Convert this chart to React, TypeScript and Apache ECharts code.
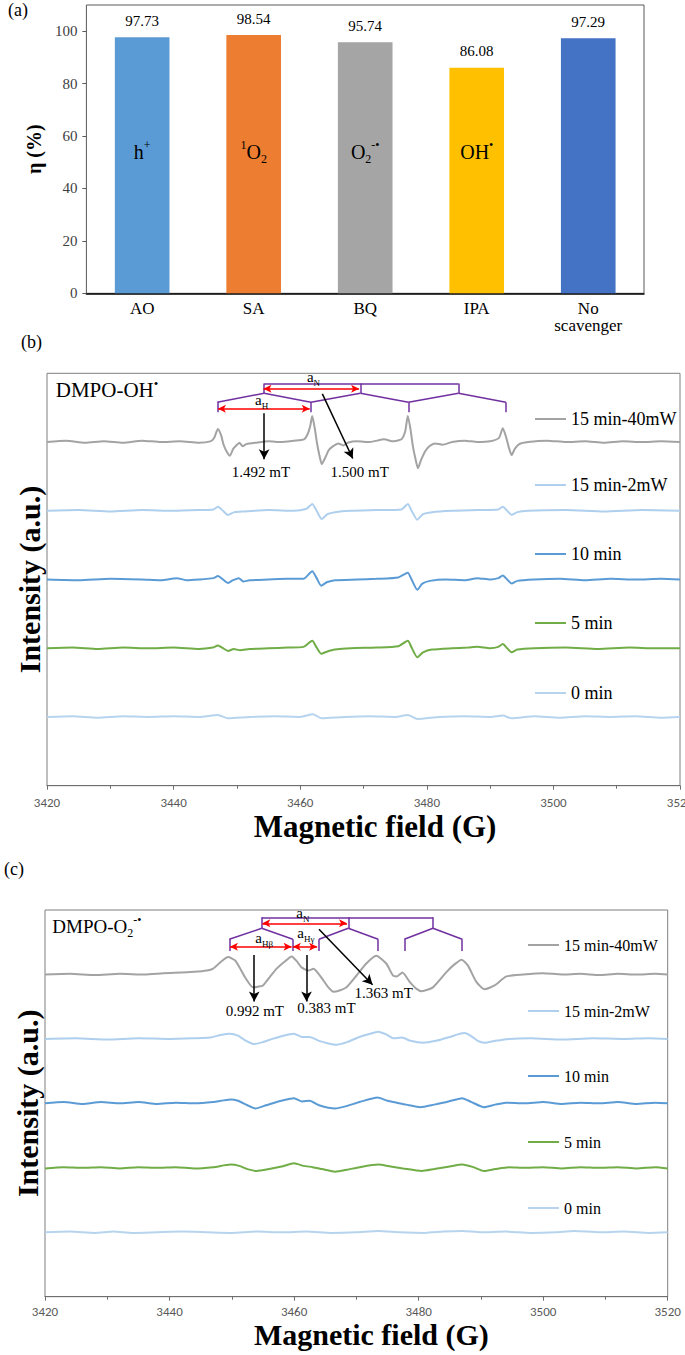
import React, { useEffect, useRef } from "react";
import * as echarts from "echarts";

// ---------------- Panel (a): scavenger experiment ----------------
const scavengers = ["AO", "SA", "BQ", "IPA", "No\nscavenger"];
const removalEfficiency = [97.73, 98.54, 95.74, 86.08, 97.29];
const barColors = ["#5B9BD5", "#ED7D31", "#A5A5A5", "#FFC000", "#4472C4"];
const quenchedSpecies = ["{m|h}{sp|+}", "{sp|1}{m|O}{sb|2}", "{m|O}{sb|2}{sp|-•}", "{m|OH}{sp|•}"];
const speciesLevel = 54;

// ---------------- Panels (b), (c): EPR spectra ----------------
const traceNames = ["15 min-40mW", "15 min-2mW", "10 min", "5 min", "0 min"];
const traceColors = ["#A3A3A3", "#AFCFEE", "#5B9BD5", "#70AD47", "#B7D4EF"];
const traceOffsets = [500, 400, 300, 200, 100];

// [field (G), intensity relative to the trace's own baseline]
const ohB40 = [[3420,0],[3423,2],[3426,-1],[3429,1],[3432,-1],[3435,2],[3438,0],[3441,1],[3444,-1],[3445.8,1],[3446.4,6],[3447.0,19],[3447.5,10],[3447.9,-4],[3448.4,-14],[3448.9,-20],[3449.4,-10],[3449.9,-5],[3450.4,-1],[3450.9,-6],[3451.5,-3],[3453,-1],[3455,1],[3457,0],[3459,2],[3460.6,4],[3461.2,12],[3461.6,24],[3461.9,38],[3462.3,20],[3462.7,-4],[3463.1,-22],[3463.4,-32],[3463.9,-24],[3464.5,-12],[3465.2,-6],[3466,-2],[3466.8,-5],[3467.5,-1],[3469,1],[3471,0],[3473.3,4],[3474.5,1],[3476,4],[3476.6,16],[3477.0,38],[3477.4,20],[3477.8,-6],[3478.2,-24],[3478.6,-38],[3479.1,-26],[3479.7,-14],[3480.4,-6],[3481.3,-2],[3482.5,-4],[3484,0],[3486,2],[3488,0],[3490,1],[3491.4,6],[3492.0,20],[3492.5,8],[3492.9,-6],[3493.4,-19],[3493.9,-10],[3494.6,-3],[3496,0],[3499,2],[3502,0],[3505,1],[3508,-1],[3511,1],[3514,0],[3517,1],[3520,0]];
const ohB2 = [[3420,0],[3425,1],[3430,-1],[3435,1],[3440,0],[3444,1],[3446.3,2],[3447.0,6],[3447.8,0],[3448.6,-6],[3449.6,-2],[3451,-1],[3455,1],[3459,0],[3461,3],[3461.9,10],[3462.6,0],[3463.4,-12],[3464.3,-5],[3465.5,-2],[3468,0],[3472,1],[3476,2],[3477.0,10],[3477.6,0],[3478.5,-13],[3479.4,-5],[3480.8,-2],[3484,0],[3488,1],[3491.3,2],[3492.0,6],[3492.7,0],[3493.4,-6],[3494.3,-2],[3496,0],[3502,1],[3508,-1],[3514,1],[3520,0]];
const ohB10 = [[3420,0],[3425,-1],[3430,1],[3435,0],[3438,-1],[3440.5,2],[3442,-1],[3444,0],[3446.3,2],[3447.0,5],[3447.8,0],[3448.6,-5],[3449.4,-1],[3450.3,2],[3451,-3],[3452,-1],[3455,0],[3458,1],[3460.5,1],[3461.9,12],[3462.6,2],[3463.3,-9],[3464.2,-4],[3465.5,-1],[3469,0],[3472,1],[3475.5,3],[3477.0,10],[3477.6,0],[3478.5,-15],[3479.3,-6],[3480.5,-2],[3483,0],[3486,-1],[3488,2],[3490,0],[3491.3,2],[3492.0,6],[3492.7,0],[3493.4,-6],[3494.3,-2],[3497,0],[3501,1],[3505,-1],[3509,1],[3513,0],[3517,1],[3520,0]];
const ohB5 = [[3420,0],[3424,1],[3428,-1],[3432,1],[3436,0],[3440,1],[3444,-1],[3446.2,1],[3447.0,4],[3447.8,0],[3448.6,-4],[3449.5,-1],[3450.5,-3],[3452,-1],[3455,0],[3458,1],[3460.5,2],[3461.9,11],[3462.6,1],[3463.3,-8],[3464.2,-5],[3465.5,-2],[3468,0],[3472,1],[3475.5,3],[3477.0,11],[3477.6,1],[3478.5,-13],[3479.4,-6],[3480.8,-2],[3484,0],[3486.5,1],[3488,2],[3490,0],[3491.3,2],[3492.0,6],[3492.7,0],[3493.4,-6],[3494.3,-2],[3497,0],[3502,1],[3507,-1],[3512,1],[3516,0],[3520,0]];
const ohB0 = [[3420,0],[3424,1],[3428,-1],[3432,1],[3436,0],[3440,1],[3444,0],[3447.0,3],[3448.6,-2],[3452,0],[3456,1],[3460,0],[3462.0,4],[3463.4,-2],[3467,0],[3471,1],[3475,0],[3477.0,3],[3478.5,-3],[3482,0],[3486,1],[3490,0],[3492.0,2],[3493.4,-2],[3497,1],[3501,-1],[3505,1],[3509,0],[3513,1],[3517,-1],[3520,0]];

const o2C40 = [[3420,0],[3424,1],[3428,-1],[3432,1],[3436,0],[3439,2],[3441.7,3],[3444,4],[3446,6],[3447.0,9],[3448.3,20],[3449.4,27],[3450.5,22],[3451.3,10],[3452.1,-4],[3453.4,-20],[3454.2,-19],[3455.0,-17],[3456.1,-4],[3457.2,9],[3458.5,20],[3459.6,28],[3460.4,21],[3461.2,11],[3462.3,6],[3463.1,9],[3464.7,-9],[3465.5,-20],[3466.3,-27],[3467.3,-25],[3468.4,-20],[3470,-2],[3471.6,17],[3473.2,29],[3474.8,17],[3475.9,-2],[3476.5,-3],[3477.4,3],[3478.6,-12],[3479.6,-22],[3480.5,-26],[3482.3,-20],[3484.5,4],[3485.8,16],[3486.9,23],[3487.9,14],[3489.3,-12],[3490.6,-23],[3492.2,-17],[3494.1,-3],[3496.8,0],[3500,2],[3503,0],[3506,1],[3509,-1],[3512,1],[3515,0],[3518,1],[3520,0]];
const o2C2 = [[3420,0],[3425,1],[3430,-1],[3435,1],[3440,0],[3444,1],[3446.5,2],[3448.2,6],[3449.7,8],[3451,5],[3452.3,-3],[3453.6,-8],[3455,-5],[3456.5,0],[3458.3,5],[3460.0,8],[3461.3,3],[3462.5,3],[3464,-3],[3465.5,-7],[3466.8,-9],[3468.5,-5],[3470.5,3],[3472.2,8],[3473.5,11],[3474.8,7],[3476,1],[3477.3,2],[3478.7,-3],[3480.7,-6],[3482.8,-3],[3485,3],[3486.3,7],[3487.4,9],[3488.5,4],[3489.5,-3],[3490.6,-6],[3492.3,-3],[3494.5,0],[3498,1],[3503,-1],[3508,1],[3513,0],[3517,1],[3520,0]];
const o2C10 = [[3420,0],[3423,2],[3426,-1],[3429,2],[3432,0],[3435,2],[3438,-1],[3441,1],[3444,0],[3447,2],[3449.8,6],[3451,4],[3452.5,-3],[3453.8,-8],[3455.5,-3],[3457.5,3],[3460.0,8],[3461.3,3],[3462.5,4],[3464,-3],[3466.6,-8],[3468.5,-4],[3470.5,2],[3473.4,9],[3475,4],[3476.5,1],[3478,-2],[3480.3,-6],[3482.5,-2],[3484.5,2],[3487.0,8],[3488.5,2],[3490.5,-6],[3492.3,-2],[3494,1],[3497,0],[3500,2],[3503,-1],[3506,1],[3509,0],[3512,2],[3515,-1],[3518,1],[3520,0]];
const o2C5 = [[3420,-1],[3423,1],[3426,0],[3429,1],[3432,-1],[3435,1],[3438,0],[3441,1],[3444,-1],[3447,1],[3449.8,5],[3451.2,3],[3452.5,-2],[3454.0,-5],[3456,-2],[3458,2],[3460.0,7],[3461.5,3],[3463,1],[3464.5,-2],[3466.6,-6],[3468.5,-3],[3470.5,1],[3473.5,5],[3475.5,2],[3477.5,-1],[3480.5,-5],[3482.5,-2],[3485,2],[3487.0,5],[3488.8,1],[3490.5,-5],[3492.3,-2],[3494.5,1],[3497,0],[3500,1],[3503,-1],[3506,1],[3509,0],[3512,1],[3515,-1],[3518,1],[3520,-1]];
const o2C0 = [[3420,0],[3424,1],[3428,-1],[3431,1],[3434,-1],[3438,0],[3442,1],[3446,0],[3450,-1],[3454,1],[3458,0],[3462,1],[3466,-1],[3470,0],[3473.5,2],[3477,0],[3481,-1],[3484,1],[3487,2],[3490,0],[3494,1],[3498,-1],[3502,0],[3505,2],[3509,0],[3513,1],[3517,-1],[3520,0]];

// Splitting-tree annotations, in data coordinates [field, intensity]
const treeB = [
  [[3454.3,585],[3485.0,585]],
  [[3454.3,585],[3454.3,571]],[[3469.5,585],[3469.5,571]],[[3485.0,585],[3485.0,571]],
  [[3454.3,571],[3446.9,558]],[[3454.3,571],[3461.7,558]],[[3469.5,571],[3461.7,558]],
  [[3469.5,571],[3477.1,558]],[[3485.0,571],[3477.1,558]],[[3485.0,571],[3492.5,558]],
  [[3446.9,558],[3446.9,543.5]],[[3461.7,558],[3461.7,543.5]],[[3477.1,558],[3477.1,543.5]],[[3492.5,558],[3492.5,543.5]],
];
const spanArrowsB = [[[3454.2,577.6],[3469.3,577.6]],[[3447.0,548.5],[3461.5,548.5]]];
const pointerArrowsB = [[[3454.3,542],[3454.3,475]],[[3463.5,570],[3468.3,476]]];
const textsB = [
  { at: [3462.1, 594.5], text: "{m|a}{sb|N}", size: 15 },
  { at: [3453.9, 560.6], text: "{m|a}{sb|H}", size: 15 },
  { at: [3453.8, 456.4], text: "{m|1.492 mT}", size: 15 },
  { at: [3469.4, 456.4], text: "{m|1.500 mT}", size: 15 },
  { at: [3421.3, 575], text: "{m|DMPO-OH}{sp|•}", size: 21, left: true },
];

const treeC = [
  [[3454.8,588.7],[3482.3,588.7]],
  [[3454.8,588.7],[3454.8,571.6]],[[3468.7,588.7],[3468.7,571.6]],[[3482.3,588.7],[3482.3,571.6]],
  [[3454.8,571.6],[3449.6,554.5]],[[3454.8,571.6],[3459.8,554.5]],
  [[3468.7,571.6],[3464.0,554.5]],[[3468.7,571.6],[3473.5,554.5]],
  [[3482.3,571.6],[3477.7,554.5]],[[3482.3,571.6],[3487.0,554.5]],
  [[3449.6,554.5],[3449.6,536.4]],[[3459.8,554.5],[3459.8,536.4]],[[3464.0,554.5],[3464.0,536.4]],
  [[3473.5,554.5],[3473.5,536.4]],[[3477.7,554.5],[3477.7,536.4]],[[3487.0,554.5],[3487.0,536.4]],
];
const spanArrowsC = [[[3454.9,579.4],[3468.5,579.4]],[[3449.7,543.1],[3459.6,543.1]],[[3459.8,543.1],[3463.7,543.1]]];
const pointerArrowsC = [[[3453.6,530],[3453.6,458]],[[3462.0,530],[3462.0,458]],[[3464.0,570],[3472.6,484]]];
const textsC = [
  { at: [3461.4, 594.9], text: "{m|a}{sb|N}", size: 15 },
  { at: [3455.2, 556.1], text: "{m|a}{sb|Hβ}", size: 15 },
  { at: [3461.9, 563.9], text: "{m|a}{sb|Hγ}", size: 15 },
  { at: [3453.7, 443.8], text: "{m|0.992 mT}", size: 15 },
  { at: [3465.2, 447.5], text: "{m|0.383 mT}", size: 15 },
  { at: [3474.4, 470.8], text: "{m|1.363 mT}", size: 15 },
  { at: [3421.1, 574], text: "{m|DMPO-O}{sb|2}{sp|-•}", size: 19, left: true },
];

const SERIF = "'Times New Roman', 'Liberation Serif', 'DejaVu Serif', serif";
const SANS = "Calibri, 'Liberation Sans', Arial, sans-serif";

function rich(size: number) {
  const small = Math.round(size * 0.62);
  const lh = Math.round(size * 1.3);
  const sl = Math.round(lh * 0.55);
  return {
    m: { fontFamily: SERIF, fontSize: size, color: "#000", lineHeight: lh, verticalAlign: "middle" },
    sb: { fontFamily: SERIF, fontSize: small, color: "#000", lineHeight: sl, verticalAlign: "bottom" },
    sp: { fontFamily: SERIF, fontSize: small, color: "#000", lineHeight: sl, verticalAlign: "top" },
  };
}

function segItems(segs: number[][][], color: string, width: number, s0: string, s1: string, size: number[]) {
  return segs.map((s) => [
    { coord: s[0], symbol: s0, symbolSize: size, lineStyle: { color, width, type: "solid" } },
    { coord: s[1], symbol: s1, symbolSize: size, lineStyle: { color, width, type: "solid" } },
  ]);
}

function annotations(tree: number[][][], spans: number[][][], pointers: number[][][], texts: any[]) {
  return {
    markLine: {
      silent: true,
      animation: false,
      symbol: ["none", "none"],
      label: { show: false },
      emphasis: { disabled: true },
      data: [
        ...segItems(tree, "#7030A0", 1.5, "none", "none", [6, 6]),
        ...segItems(spans, "#FF0000", 1.5, "arrow", "arrow", [6, 8]),
        ...segItems(pointers, "#000000", 1.5, "none", "arrow", [8, 10]),
      ],
    },
    markPoint: {
      silent: true,
      animation: false,
      symbol: "rect",
      symbolSize: 1,
      itemStyle: { color: "rgba(0,0,0,0)" },
      data: texts.map((t) => ({
        coord: t.at,
        label: {
          show: true,
          position: t.left ? "right" : "inside",
          distance: 0,
          formatter: t.text,
          rich: rich(t.size),
        },
      })),
    },
  };
}

function traceSeries(traces: number[][][], axis: number, extra: any) {
  return traces.map((t, i) => ({
    type: "line",
    name: traceNames[i],
    xAxisIndex: axis,
    yAxisIndex: axis,
    data: t.map(([x, d]) => [x, traceOffsets[i] + d]),
    symbol: "none",
    showSymbol: false,
    smooth: 0.2,
    color: traceColors[i],
    lineStyle: { width: 2, color: traceColors[i] },
    silent: true,
    ...(i === 0 ? extra : {}),
  }));
}

function legendsFor(left: number, centers: number[], fontSize: number) {
  const lh = fontSize + 2;
  return traceNames.map((n, i) => ({
    data: [n],
    left,
    top: centers[i] - lh / 2,
    padding: 0,
    icon: "rect",
    itemWidth: 31,
    itemHeight: 2,
    selectedMode: false,
    itemStyle: { borderWidth: 0 },
    textStyle: { fontFamily: SERIF, fontSize, color: "#000", lineHeight: lh },
  }));
}

function spectrumAxes(grid: number, nameGap: number, shift: number, labelMargin: number, nameSize: number) {
  return {
    x: {
      type: "value",
      gridIndex: grid,
      min: 3420,
      max: 3520,
      interval: 20,
      axisLine: { lineStyle: { color: "#6f6f6f", width: 1 } },
      axisTick: { show: true, length: 4, lineStyle: { color: "#6f6f6f" } },
      minorTick: { show: true, splitNumber: 2, length: 3, lineStyle: { color: "#6f6f6f" } },
      axisLabel: { fontFamily: SANS, fontSize: 13, color: "#595959", margin: labelMargin, formatter: (v: number) => String(v) },
      splitLine: { show: false },
      name: "Magnetic field (G)",
      nameLocation: "middle",
      nameGap,
      nameTextStyle: { fontFamily: SERIF, fontWeight: "bold", fontSize: nameSize, color: "#000", padding: [0, 0, 0, shift] },
    },
    y: {
      type: "value",
      gridIndex: grid,
      min: 0,
      max: 600,
      axisLine: { show: false },
      axisTick: { show: false },
      axisLabel: { show: false },
      splitLine: { show: false },
      name: "Intensity (a.u.)",
      nameLocation: "middle",
      nameRotate: 90,
      nameGap: 3,
      nameTextStyle: { fontFamily: SERIF, fontWeight: "bold", fontSize: 30, color: "#000" },
    },
  };
}

function buildOption() {
  const axB = spectrumAxes(1, 25, 23, 10, 31);
  const axC = spectrumAxes(2, 23, 30, 8, 30);
  const gridBase = { show: true, borderWidth: 1, backgroundColor: "transparent", containLabel: false, outerBoundsMode: "none" };
  return {
    animation: false,
    textStyle: { fontFamily: SERIF },
    grid: [
      { ...gridBase, left: 86.4, top: 5, width: 557.6, height: 288.3, borderColor: "#595959" },
      { ...gridBase, left: 47, top: 373.3, width: 633, height: 412.4, borderColor: "#7f7f7f" },
      { ...gridBase, left: 45, top: 910, width: 622.7, height: 386.7, borderColor: "#7f7f7f" },
    ],
    xAxis: [
      {
        type: "category",
        gridIndex: 0,
        data: scavengers,
        axisLine: { lineStyle: { color: "#000", width: 1.5 } },
        axisTick: { show: false },
        axisLabel: { fontFamily: SERIF, fontSize: 17, color: "#000", margin: 7, lineHeight: 17, interval: 0 },
      },
      axB.x,
      axC.x,
    ],
    yAxis: [
      {
        type: "value",
        gridIndex: 0,
        min: 0,
        max: 110,
        interval: 20,
        axisLine: { show: false },
        axisTick: { show: true, length: 4, lineStyle: { color: "#595959" } },
        axisLabel: { showMaxLabel: false, fontFamily: SERIF, fontSize: 15, color: "#404040", margin: 9 },
        splitLine: { show: false },
        name: "η (%)",
        nameLocation: "middle",
        nameRotate: 90,
        nameGap: 35,
        nameTextStyle: { fontFamily: SERIF, fontWeight: "bold", fontSize: 20, color: "#000" },
      },
      axB.y,
      axC.y,
    ],
    legend: [...legendsFor(535, [419, 485, 554, 623, 693], 18), ...legendsFor(528, [945, 1011, 1076, 1142, 1208], 16)],
    graphic: [
      { type: "text", left: 8, top: 1, style: { text: "(a)", font: `18px ${SERIF}`, fill: "#000" } },
      { type: "text", left: 21, top: 333, style: { text: "(b)", font: `18px ${SERIF}`, fill: "#000" } },
      { type: "text", left: 4, top: 860, style: { text: "(c)", font: `18px ${SERIF}`, fill: "#000" } },
    ],
    series: [
      {
        type: "bar",
        xAxisIndex: 0,
        yAxisIndex: 0,
        barWidth: "49%",
        silent: true,
        data: removalEfficiency.map((v, i) => ({ value: v, itemStyle: { color: barColors[i] } })),
        label: { show: true, position: "top", distance: 9, fontFamily: SERIF, fontSize: 15, color: "#000" },
        markPoint: {
          silent: true,
          animation: false,
          symbol: "rect",
          symbolSize: 1,
          itemStyle: { color: "rgba(0,0,0,0)" },
          data: quenchedSpecies.map((s, i) => ({
            coord: [i, speciesLevel],
            label: { show: true, position: "inside", formatter: s, rich: rich(20) },
          })),
        },
      },
      ...traceSeries([ohB40, ohB2, ohB10, ohB5, ohB0], 1, annotations(treeB, spanArrowsB, pointerArrowsB, textsB)),
      ...traceSeries([o2C40, o2C2, o2C10, o2C5, o2C0], 2, annotations(treeC, spanArrowsC, pointerArrowsC, textsC)),
    ],
  };
}

export default function App() {
  const ref = useRef<HTMLDivElement>(null);
  useEffect(() => {
    const chart = echarts.init(ref.current as HTMLDivElement, null, { renderer: "svg" });
    chart.setOption(buildOption() as any);
    return () => chart.dispose();
  }, []);
  return (
    <div
      ref={ref}
      style={{ position: "absolute", left: 0, top: 0, width: 685, height: 1355, background: "#fff" }}
    />
  );
}
